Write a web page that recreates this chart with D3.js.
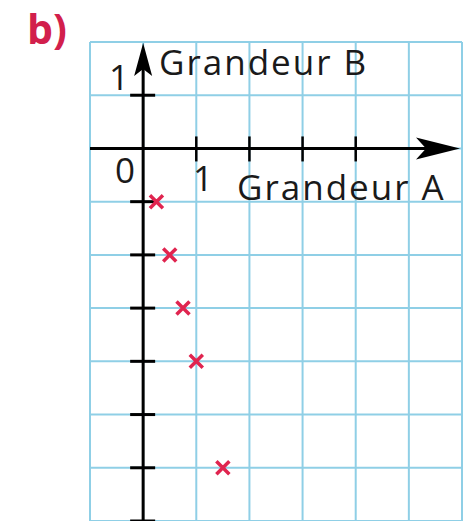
<!DOCTYPE html>
<meta charset="utf-8">
<script src="https://d3js.org/d3.v7.min.js"></script>
<style>
  body { margin: 0; background: #fff; }
  text { font-family: "Open Sans", sans-serif; }
</style>
<div id="chart"></div>
<script>
    // Values
    const gridX = [-1, 0, 1, 2, 3, 4, 5, 6];
    const gridY = [2, 1, 0, -1, -2, -3, -4, -5, -6, -7];
    const xTicks = [1, 2, 3, 4];
    const yTicks = [1, -1, -2, -3, -4, -5, -6, -7];
    const grandeurA = [0.25, 0.5, 0.75, 1, 1.5];
    const grandeurB = [-1, -2, -3, -4, -6];

    const width = 466, height = 521;

    const svg = d3.select("#chart")
                .append("svg")
                .attr("width", width)
                .attr("height", height);

    const x = d3.scaleLinear().domain([-1, 6]).range([90, 462]);
    const y = d3.scaleLinear().domain([2, -7]).range([42, 521]);

    // graph paper
    const grid = svg.append("g")
        .attr("stroke", "#8fcfe6")
        .attr("stroke-width", 2);
    grid.selectAll(".vx")
        .data(gridX)
        .join("line")
            .attr("x1", d => x(d)).attr("x2", d => x(d))
            .attr("y1", y(2)).attr("y2", y(-7));
    grid.selectAll(".hy")
        .data(gridY)
        .join("line")
            .attr("x1", x(-1)).attr("x2", x(6))
            .attr("y1", d => y(d)).attr("y2", d => y(d));

    // axes
    const axes = svg.append("g").attr("stroke", "#000").attr("stroke-width", 3);
    axes.append("line")
        .attr("x1", x(-1)).attr("x2", x(5.5))
        .attr("y1", y(0)).attr("y2", y(0));
    axes.append("line")
        .attr("x1", x(0)).attr("x2", x(0))
        .attr("y1", y(1.5)).attr("y2", y(-7));
    axes.selectAll(".xt")
        .data(xTicks)
        .join("line")
            .attr("stroke-width", 2.5)
            .attr("x1", d => x(d)).attr("x2", d => x(d))
            .attr("y1", y(0) - 12).attr("y2", y(0) + 13);
    axes.selectAll(".yt")
        .data(yTicks)
        .join("line")
            .attr("x1", x(0) - 13).attr("x2", x(0) + 12)
            .attr("y1", d => y(d)).attr("y2", d => y(d));

    // arrow heads
    const xe = x(6) - 2, ye = y(0);
    svg.append("path")
        .attr("d", `M${xe},${ye} L${xe - 44},${ye - 11} L${xe - 34},${ye} L${xe - 44},${ye + 11} Z`)
        .attr("fill", "#000");
    const ax = x(0), ay = y(2) + 1;
    svg.append("path")
        .attr("d", `M${ax},${ay} L${ax - 9},${ay + 33} L${ax},${ay + 26} L${ax + 9},${ay + 33} Z`)
        .attr("fill", "#000");

    // labels
    const labels = svg.append("g").attr("fill", "#1a1a1a").style("font-size", "35px");
    labels.append("text").attr("x", 159).attr("y", 75).style("letter-spacing", "2px").text("Grandeur B");
    labels.append("text").attr("x", 237).attr("y", 200).style("letter-spacing", "2px").text("Grandeur A");
    labels.append("text").attr("x", 109).attr("y", 90).text("1");
    labels.append("text").attr("x", 115).attr("y", 183).text("0");
    labels.append("text").attr("x", 193).attr("y", 191).text("1");

    svg.append("text")
        .attr("x", 27).attr("y", 44)
        .attr("fill", "#d21f4c")
        .style("font-size", "41px")
        .style("font-weight", "bold")
        .text("b)");

    // points
    const pts = d3.zip(grandeurA, grandeurB);
    const s = 6.5;
    svg.append("g")
        .selectAll("path")
        .data(pts)
        .join("path")
            .attr("d", d => `M${x(d[0]) - s},${y(d[1]) - s} L${x(d[0]) + s},${y(d[1]) + s} M${x(d[0]) - s},${y(d[1]) + s} L${x(d[0]) + s},${y(d[1]) - s}`)
            .attr("stroke", "#e0244f")
            .attr("stroke-width", 3.5);
</script>
